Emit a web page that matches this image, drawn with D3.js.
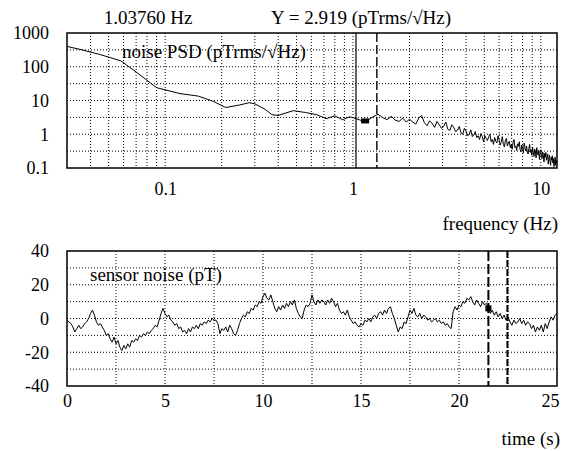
<!DOCTYPE html>
<meta charset="utf-8">
<style>
  body { margin: 0; background: #fff; }
  text { font-family: "Liberation Serif", "Times New Roman", serif; fill: #000; }
  .axis text { font-size: 18px; }
  text.label { font-size: 19px; }
  .grid line { stroke: #000; stroke-width: 1; stroke-dasharray: 1,2; }
</style>
<script src="https://d3js.org/d3.v7.min.js"></script>
<div id="chart"></div>
<script>

// noise PSD, low frequency part (Hz / pTrms per root Hz)
var psdLowFreq = [0.03, 0.035, 0.045, 0.058, 0.07, 0.09, 0.12, 0.15, 0.18, 0.21, 0.25, 0.28, 0.30, 0.34, 0.37];
var psdLowVal  = [400, 330, 230, 150, 70, 24, 16, 13.5, 9.5, 6.2, 7.4, 8.6, 8.0, 5.5, 3.8];

// PSD bins from 0.40 Hz on, every 0.08 Hz
var psdBinStart = 0.40, psdBinStep = 0.08;
var psdBinVal = [
  3.6, 5.0, 4.4, 3.8, 2.9, 3.5, 2.7, 3.3, 2.9, 2.5,
  2.6, 3.3, 3.9, 3.1, 2.7, 3.4, 2.6, 2.4, 3.0, 2.3,
  2.8, 2.3, 2.0, 3.0, 3.6, 2.2, 1.8, 2.5, 2.1, 1.6,
  2.4, 1.9, 1.5, 1.7, 2.3, 1.4, 1.3, 1.9, 1.6, 1.2,
  1.3, 1.7, 1.1, 1.0, 1.5, 1.25, 0.9, 1.0, 1.35, 0.85,
  0.95, 1.2, 0.8, 0.9, 0.7, 1.05, 0.85, 0.6, 0.9, 0.75,
  0.65, 0.85, 1.0, 0.6, 0.7, 0.5, 0.8, 0.62, 0.55, 0.9,
  0.7, 0.48, 0.6, 0.85, 0.5, 0.42, 0.66, 0.75, 0.45, 0.55,
  0.62, 0.4, 0.5, 0.36, 0.58, 0.7, 0.4, 0.45, 0.33, 0.52,
  0.44, 0.6, 0.35, 0.3, 0.48, 0.38, 0.28, 0.55, 0.4, 0.32,
  0.45, 0.3, 0.26, 0.38, 0.5, 0.29, 0.35, 0.24, 0.42, 0.3,
  0.22, 0.36, 0.3, 0.2, 0.4, 0.27, 0.24, 0.33, 0.18, 0.28,
  0.35, 0.22, 0.19, 0.3, 0.24, 0.15, 0.27, 0.21, 0.29, 0.17,
  0.2, 0.26, 0.13, 0.18, 0.24, 0.16, 0.12, 0.21, 0.17, 0.23,
  0.14, 0.19, 0.11, 0.16, 0.21, 0.12, 0.17, 0.14
];

// sensor noise time trace (pT), one sample every 0.1 s
var noiseStep = 0.1;
var noiseVal = [
  -1, -2, -3, -5, -8, -6, -4, -6, -5, -3,
  -2, 0, 3, 5, 2, -2, -4, -3, -5, -7,
  -10, -9, -12, -14, -11, -15, -13, -17, -19, -16,
  -18, -15, -17, -13, -14, -12, -13, -10, -11, -9,
  -10, -8, -9, -7, -6, -4, -5, -1, 3, 6,
  3, 1, 2, -1, -2, -4, -3, -6, -5, -8,
  -7, -9, -6, -8, -5, -6, -4, -6, -3, -4,
  -2, -3, -1, -2, 0, -1, -1, -3, -9, -6,
  -7, -5, -8, -4, -6, -9, -10, -7, -3, 0,
  2, 1, 4, 3, 6, 5, 8, 7, 10, 9,
  13, 15, 12, 11, 14, 10, 6, 4, 7, 5,
  8, 6, 9, 7, 10, 8, 11, 6, 3, 1,
  0, 5, 8, 7, 9, 14, 10, 8, 11, 9,
  11, 10, 8, 11, 9, 12, 10, 7, 9, 5,
  3, 4, 2, 5, 1, -1, -3, -2, -4, -5,
  -3, -4, -1, -2, 0, -2, 1, 2, 0, 3,
  4, 2, 5, 3, 6, 7, 3, 0, -4, -8,
  -5, -6, -2, -3, 1, 5, 3, 6, 2, 1,
  3, 0, 2, 1, -1, 0, -2, -1, 0, -2,
  -1, -3, -2, -4, -3, -5, -6, 4, 7, 5,
  8, 7, 10, 9, 12, 11, 13, 10, 8, 11,
  9, 7, 10, 8, 9, 7, 3, 5, 2, 4,
  1, 3, 0, 2, -1, 1, -2, -4, -1, -3,
  -2, 0, -3, -1, -4, -2, -3, -6, -4, -8,
  -5, -7, -4, -8, -3, -6, -2, 1, -1, 2,
  3
];

// ticks
var psdYTicks = [0.1, 1, 10, 100, 1000];
var psdYGrid = [0.316, 1, 3.16, 10, 31.6, 100, 316];
var psdXTicks = [0.1, 1, 10];
var timeTicks = [0, 5, 10, 15, 20, 25];
var timeGrid = [2.5, 5, 7.5, 10, 12.5, 15, 17.5, 20, 22.5];
var noiseYTicks = [-40, -20, 0, 20, 40];
var noiseYGrid = [-30, -20, -10, 0, 10, 20, 30];

// cursors
var cursorFreq = [1.0376, 1.34];
var cursorY = 2.919;
var markerPsd = {f: 1.16, v: 2.4};
var cursorTime = [21.5, 22.47];
var markerNoise = {t: 21.5, v: 6};

var W = 563, H = 451;
var svg = d3.select("#chart").append("svg")
    .attr("width", W).attr("height", H);

// ---------- top panel : PSD ----------
var pTop = {x0: 67, x1: 557, y0: 33, y1: 168};

var x = d3.scaleLog().domain([0.03, 12.2]).range([pTop.x0, pTop.x1]);
var y = d3.scaleLog().domain([0.1, 1000]).range([pTop.y1, pTop.y0]);

var psd = psdLowFreq.map(function(f, i){ return {f: f, v: psdLowVal[i]}; })
  .concat(psdBinVal.map(function(v, i){ return {f: psdBinStart + i*psdBinStep, v: v}; }));

var g1 = svg.append("g");

g1.append("g").attr("class", "grid")
  .selectAll("line")
  .data(x.ticks().filter(function(d){ return d > 0.031 && d < 12.2; }))
  .enter().append("line")
    .attr("x1", function(d){ return x(d); }).attr("x2", function(d){ return x(d); })
    .attr("y1", pTop.y0).attr("y2", pTop.y1);

g1.append("g").attr("class", "grid")
  .selectAll("line")
  .data(psdYGrid)
  .enter().append("line")
    .attr("x1", pTop.x0).attr("x2", pTop.x1)
    .attr("y1", function(d){ return y(d); }).attr("y2", function(d){ return y(d); });

g1.append("path")
  .datum(psd)
  .attr("fill", "none")
  .attr("stroke", "#000")
  .attr("stroke-width", 1)
  .attr("d", d3.line().x(function(d){ return x(d.f); }).y(function(d){ return y(d.v); }));

// cursors
g1.append("line")
  .attr("x1", x(cursorFreq[0])).attr("x2", x(cursorFreq[0]))
  .attr("y1", pTop.y0).attr("y2", pTop.y1)
  .attr("stroke", "#000").attr("stroke-width", 1.2);
g1.append("line")
  .attr("x1", x(cursorFreq[1])).attr("x2", x(cursorFreq[1]))
  .attr("y1", pTop.y0).attr("y2", pTop.y1)
  .attr("stroke", "#000").attr("stroke-width", 1.4)
  .attr("stroke-dasharray", "9,3");
g1.append("rect")
  .attr("x", x(markerPsd.f) - 4).attr("y", y(markerPsd.v) - 3)
  .attr("width", 8).attr("height", 5)
  .attr("fill", "#000");

g1.append("rect")
  .attr("x", pTop.x0).attr("y", pTop.y0)
  .attr("width", pTop.x1 - pTop.x0).attr("height", pTop.y1 - pTop.y0)
  .attr("fill", "none").attr("stroke", "#000").attr("stroke-width", 1.5);

g1.append("g").attr("class", "axis")
  .attr("transform", "translate(" + pTop.x0 + ",0)")
  .call(d3.axisLeft(y).tickValues(psdYTicks).tickSize(0).tickPadding(18)
        .tickFormat(function(d){ return String(d); }))
  .call(function(g){ g.select(".domain").remove(); });

g1.append("g").attr("class", "axis")
  .attr("transform", "translate(0," + pTop.y1 + ")")
  .call(d3.axisBottom(x).tickValues(psdXTicks).tickSize(0).tickPadding(14)
        .tickFormat(function(d){ return String(d); }))
  .call(function(g){ g.select(".domain").remove(); });

svg.append("text").attr("class", "label")
  .attr("x", 148).attr("y", 24).attr("text-anchor", "middle")
  .text(cursorFreq[0].toFixed(5) + " Hz");
svg.append("text").attr("class", "label")
  .attr("x", 361).attr("y", 24).attr("text-anchor", "middle")
  .text("Y = " + cursorY.toFixed(3) + " (pTrms/\u221AHz)");
svg.append("text").attr("class", "label")
  .attr("x", 122).attr("y", 58)
  .text("noise PSD (pTrms/\u221AHz)");
svg.append("text").attr("class", "label")
  .attr("x", 558).attr("y", 230).attr("text-anchor", "end")
  .text("frequency (Hz)");

// ---------- bottom panel : time trace ----------
var pBot = {x0: 67, x1: 557, y0: 251, y1: 386};

var xt = d3.scaleLinear().domain([0, 25]).range([pBot.x0, pBot.x1]);
var yt = d3.scaleLinear().domain([-40, 40]).range([pBot.y1, pBot.y0]);

var g2 = svg.append("g");

g2.append("g").attr("class", "grid")
  .selectAll("line")
  .data(timeGrid)
  .enter().append("line")
    .attr("x1", function(d){ return xt(d); }).attr("x2", function(d){ return xt(d); })
    .attr("y1", pBot.y0).attr("y2", pBot.y1);

g2.append("g").attr("class", "grid")
  .selectAll("line")
  .data(noiseYGrid)
  .enter().append("line")
    .attr("x1", pBot.x0).attr("x2", pBot.x1)
    .attr("y1", function(d){ return yt(d); }).attr("y2", function(d){ return yt(d); });

g2.append("path")
  .datum(noiseVal)
  .attr("fill", "none")
  .attr("stroke", "#000")
  .attr("stroke-width", 1)
  .attr("d", d3.line().x(function(d, i){ return xt(i*noiseStep); }).y(function(d){ return yt(d); }));

g2.append("line")
  .attr("x1", xt(cursorTime[0])).attr("x2", xt(cursorTime[0]))
  .attr("y1", pBot.y0).attr("y2", pBot.y1)
  .attr("stroke", "#000").attr("stroke-width", 2)
  .attr("stroke-dasharray", "10,3");
g2.append("line")
  .attr("x1", xt(cursorTime[1])).attr("x2", xt(cursorTime[1]))
  .attr("y1", pBot.y0).attr("y2", pBot.y1)
  .attr("stroke", "#000").attr("stroke-width", 2)
  .attr("stroke-dasharray", "7,2");
g2.append("rect")
  .attr("x", xt(markerNoise.t) - 3).attr("y", yt(markerNoise.v) - 3)
  .attr("width", 6).attr("height", 6)
  .attr("fill", "#000");

g2.append("rect")
  .attr("x", pBot.x0).attr("y", pBot.y0)
  .attr("width", pBot.x1 - pBot.x0).attr("height", pBot.y1 - pBot.y0)
  .attr("fill", "none").attr("stroke", "#000").attr("stroke-width", 1.5);

g2.append("g").attr("class", "axis")
  .attr("transform", "translate(" + pBot.x0 + ",0)")
  .call(d3.axisLeft(yt).tickValues(noiseYTicks).tickSize(0).tickPadding(18)
        .tickFormat(function(d){ return String(d); }))
  .call(function(g){ g.select(".domain").remove(); });

g2.append("g").attr("class", "axis")
  .attr("transform", "translate(0," + pBot.y1 + ")")
  .call(d3.axisBottom(xt).tickValues(timeTicks).tickSize(0).tickPadding(8)
        .tickFormat(function(d){ return String(d); }))
  .call(function(g){
    g.select(".domain").remove();
    // last label sits inside the page edge
    g.selectAll(".tick").filter(function(d){ return d === 25; })
      .select("text").attr("text-anchor", "end").attr("x", 2);
  });

svg.append("text").attr("class", "label")
  .attr("x", 90).attr("y", 281)
  .text("sensor noise (pT)");
svg.append("text").attr("class", "label")
  .attr("x", 560).attr("y", 445).attr("text-anchor", "end")
  .text("time (s)");

</script>
